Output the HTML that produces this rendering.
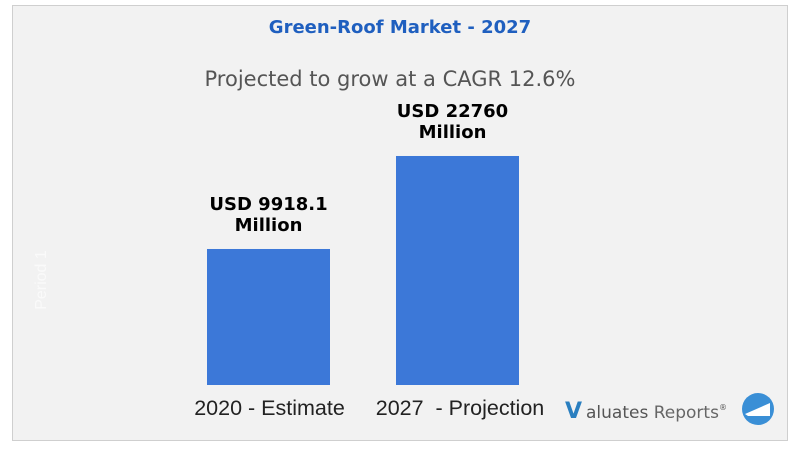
<!DOCTYPE html>
<html><head><meta charset="utf-8"><style>
body{margin:0;width:800px;height:450px;background:#fff;font-family:"Liberation Sans",sans-serif;overflow:hidden}
#frame{position:absolute;left:12px;top:5px;width:774px;height:434px;background:#f2f2f2;border:1px solid #cfcfcf}
</style></head><body>
<div id="frame"></div>
<svg width="800" height="450" style="position:absolute;left:0;top:0">
<text x="400" y="33" text-anchor="middle" font-family="DejaVu Sans, sans-serif" font-weight="bold" font-size="18" fill="#1f5fbf">Green-Roof Market - 2027</text>
<text x="390" y="86" text-anchor="middle" font-family="DejaVu Sans, sans-serif" font-size="21" fill="#555">Projected to grow at a CAGR 12.6%</text>
<text x="46" y="280" transform="rotate(-90 46 280)" text-anchor="middle" font-size="16" fill="#fafafa">Period 1</text>
<g id="bars"></g>
<g>
<text x="565" y="418" font-family="DejaVu Sans, sans-serif" font-weight="bold" font-size="22" fill="#2a7fc0">V</text>
<text x="586" y="418" font-family="DejaVu Sans, sans-serif" font-size="17" fill="#555">aluates <tspan fill="#666">Reports</tspan><tspan font-size="8" dy="-8">®</tspan></text>
<circle cx="758" cy="409" r="16" fill="#3a8fd6"/>
<path d="M745 414 L770 403 L770 416 L748 416 Z" fill="#fff"/>
</g>
</svg>
<script>
const categories=["2020 - Estimate","2027  - Projection"];
const values=[9918.1,22760];
const valueLabels=["USD 9918.1","USD 22760"];
const vMin=-8862, base=385, k=0.007242;
function y(v){return base-(v-vMin)*k;}
function xc(i){return 268.5+i*189;}
const g=document.getElementById('bars');const ns="http://www.w3.org/2000/svg";
values.forEach((v,i)=>{
 const r=document.createElementNS(ns,'rect');
 r.setAttribute('x',xc(i)-61.5);r.setAttribute('y',y(v));r.setAttribute('width',123);r.setAttribute('height',base-y(v));r.setAttribute('fill','#3c78d8');
 
 
 g.appendChild(r);
 [valueLabels[i],"Million"].forEach((s,j)=>{
  const t=document.createElementNS(ns,'text');
  t.setAttribute('x',xc(i)-5*i);t.setAttribute('y',y(v)-39+j*21);t.setAttribute('text-anchor','middle');
  t.setAttribute('font-family','DejaVu Sans, sans-serif');t.setAttribute('font-weight','bold');t.setAttribute('font-size','18');
  t.textContent=s;
  
  
  g.appendChild(t);
 });
 const c=document.createElementNS(ns,'text');
 c.setAttribute('x',xc(i)+1+i*1.5);c.setAttribute('y',415);c.setAttribute('text-anchor','middle');c.setAttribute('font-size','21.5');c.setAttribute('fill','#222');
 c.setAttribute('xml:space','preserve');c.style.whiteSpace='pre';
 c.textContent=categories[i];
 
 
 g.appendChild(c);
});
</script>
</body></html>
